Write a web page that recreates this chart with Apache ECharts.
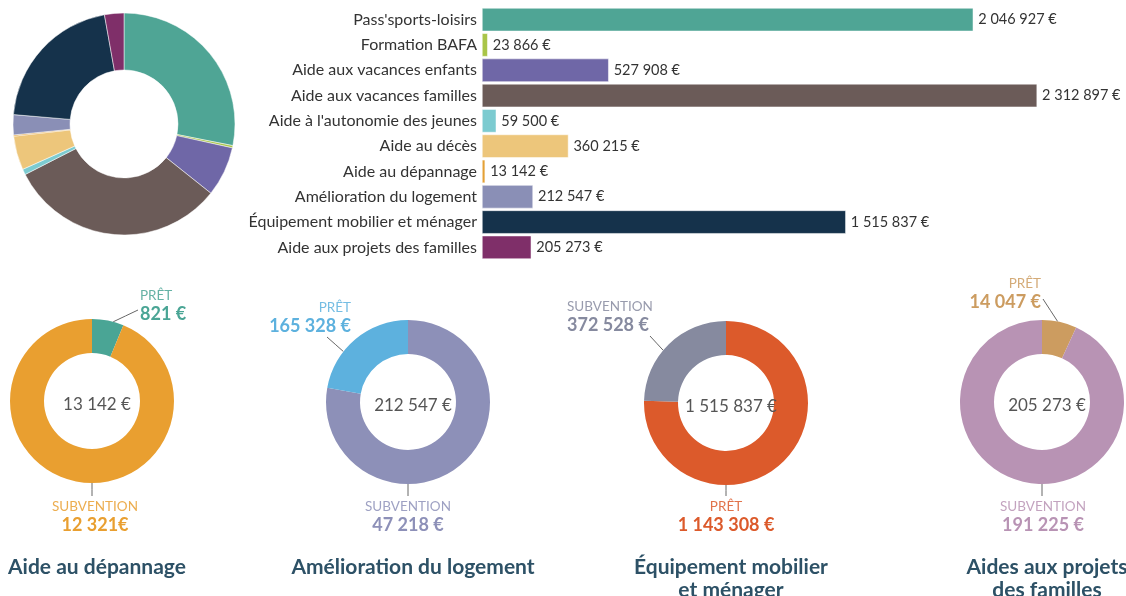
<!DOCTYPE html>
<html>
<head>
<meta charset="utf-8">
<script src="https://cdn.jsdelivr.net/npm/echarts@6/dist/echarts.min.js"></script>
<style>
  html, body { margin: 0; padding: 0; background: #fff; }
  #chart { width: 1126px; height: 596px; }
</style>
</head>
<body>
<div id="chart"></div>
<script>
// aides de l'année, par dispositif
const categories = [
  "Pass'sports-loisirs",
  'Formation BAFA',
  'Aide aux vacances enfants',
  'Aide aux vacances familles',
  "Aide à l'autonomie des jeunes",
  'Aide au décès',
  'Aide au dépannage',
  'Amélioration du logement',
  'Équipement mobilier et ménager',
  'Aide aux projets des familles'
]
const amounts = [2046927, 23866, 527908, 2312897, 59500, 360215, 13142, 212547, 1515837, 205273]
const barColors = ['#4fa595', '#a9c548', '#6f67a7', '#6b5b58', '#7ccbd0', '#edc67b', '#e4a136', '#8a8fb6', '#15324b', '#7f2f69']

// détail prêt / subvention (ordre des parts dans le sens horaire depuis midi)
const donutTitles = ['Aide au dépannage', 'Amélioration du logement', 'Équipement mobilier\net ménager', 'Aides aux projets\ndes familles']
const donutTotals = ['13 142 €', '212 547 €', '1 515 837 €', '205 273 €']
const donutNames = [['PRÊT', 'SUBVENTION'], ['SUBVENTION', 'PRÊT'], ['PRÊT', 'SUBVENTION'], ['PRÊT', 'SUBVENTION']]
const donutValues = [[821, 12321], [165328, 47218], [1143308, 372528], [14047, 191225]]
const donutLabels = [['821 €', '12 321€'], ['47 218 €', '165 328 €'], ['1 143 308 €', '372 528 €'], ['14 047 €', '191 225 €']]
const donutColors = [['#4aa595', '#e99f30'], ['#8d90b8', '#5db1de'], ['#dc5a2b', '#868a9f'], ['#cc9c60', '#b893b4']]

const fmt = v => String(v).replace(/\B(?=(\d{3})+(?!\d))/g, ' ') + ' €'
const FONT = 'Lato'

// position des petits donuts, de leurs étiquettes et des traits de rappel
const donutCenters = [[92, 401], [408, 402], [726, 403], [1042, 402]]
const donutR = 82
const labelPos = [
  [{ x: 140, y: 287, align: 'left', angle: 15, end: [138, 310] }, { x: 95, y: 498, align: 'center', angle: 180, end: [92, 496] }],
  [{ x: 408, y: 498, align: 'center', angle: 180, end: [408, 496] }, { x: 351, y: 299, align: 'right', angle: 308, end: [327, 337] }],
  [{ x: 726, y: 498, align: 'center', angle: 180, end: [726, 496] }, { x: 567, y: 298, align: 'left', angle: 310, end: [650, 336] }],
  [{ x: 1041, y: 275, align: 'right', angle: 11, end: [1043, 299] }, { x: 1043, y: 498, align: 'center', angle: 180, end: [1042, 496] }]
]

const chart = echarts.init(document.getElementById('chart'))

const titles = []
const series = []

// grand donut
series.push({
  type: 'pie',
  center: [124, 124],
  radius: [54, 111],
  startAngle: 90,
  silent: true,
  label: { show: false },
  labelLine: { show: false },
  itemStyle: { borderColor: '#fff', borderWidth: 0.5 },
  data: amounts.map((v, i) => ({ name: categories[i], value: v, itemStyle: { color: barColors[i] } }))
})

// barres
series.push({
  type: 'bar',
  barCategoryGap: '8%',
  data: amounts,
  itemStyle: {
    color: p => barColors[p.dataIndex],
    borderColor: '#fff',
    borderWidth: 0.5
  },
  label: {
    show: true,
    position: 'right',
    distance: 5,
    fontFamily: FONT,
    fontSize: 14.5,
    color: '#333',
    formatter: p => fmt(p.value)
  }
})

donutValues.forEach((vals, d) => {
  const c = donutCenters[d]
  series.push({
    type: 'pie',
    center: c,
    radius: [48, donutR],
    startAngle: 90,
    silent: true,
    data: vals.map((v, i) => ({
      name: donutNames[d][i],
      value: v,
      itemStyle: { color: donutColors[d][i] },
      label: {
        formatter: '{a|' + donutNames[d][i] + '}\n{b|' + donutLabels[d][i] + '}',
        rich: {
          a: { fontFamily: FONT, fontSize: 13.5, color: donutColors[d][i], opacity: 0.85, lineHeight: 17, align: labelPos[d][i].align },
          b: { fontFamily: FONT, fontSize: 18, fontWeight: 'bold', color: donutColors[d][i], lineHeight: 20, align: labelPos[d][i].align }
        }
      }
    })),
    label: { show: true, position: 'outside', width: 160, overflow: 'none' },
    labelLine: { show: true, lineStyle: { color: '#666', width: 1 } },
    labelLayout: p => {
      const pos = labelPos[d][p.dataIndex]
      const a = pos.angle * Math.PI / 180
      const s = [c[0] + donutR * Math.sin(a), c[1] - donutR * Math.cos(a)]
      const m = [(s[0] + pos.end[0]) / 2, (s[1] + pos.end[1]) / 2]
      return {
        x: pos.x, y: pos.y, align: pos.align, verticalAlign: 'top', hideOverlap: false,
        labelLinePoints: [s, m, pos.end]
      }
    }
  })
  titles.push({
    text: donutTotals[d],
    left: c[0],
    top: c[1] - 10,
    textAlign: 'center',
    textStyle: { fontFamily: FONT, fontSize: 17, fontWeight: 'normal', color: '#555' }
  })
  titles.push({
    text: donutTitles[d],
    left: c[0],
    top: 551,
    textAlign: 'center',
    textStyle: { fontFamily: FONT, fontSize: 21, fontWeight: 'bold', color: '#2d5166', lineHeight: 23 }
  })
})

chart.setOption({
  animation: false,
  title: titles,
  grid: { left: 482, top: 7, width: 600, height: 253 },
  xAxis: { type: 'value', min: 0, max: 2500000, show: false },
  yAxis: {
    type: 'category',
    inverse: true,
    data: categories,
    axisLine: { show: false },
    axisTick: { show: false },
    axisLabel: { fontFamily: FONT, fontSize: 16, color: '#333', margin: 5 }
  },
  series: series
})
</script>
</body>
</html>
